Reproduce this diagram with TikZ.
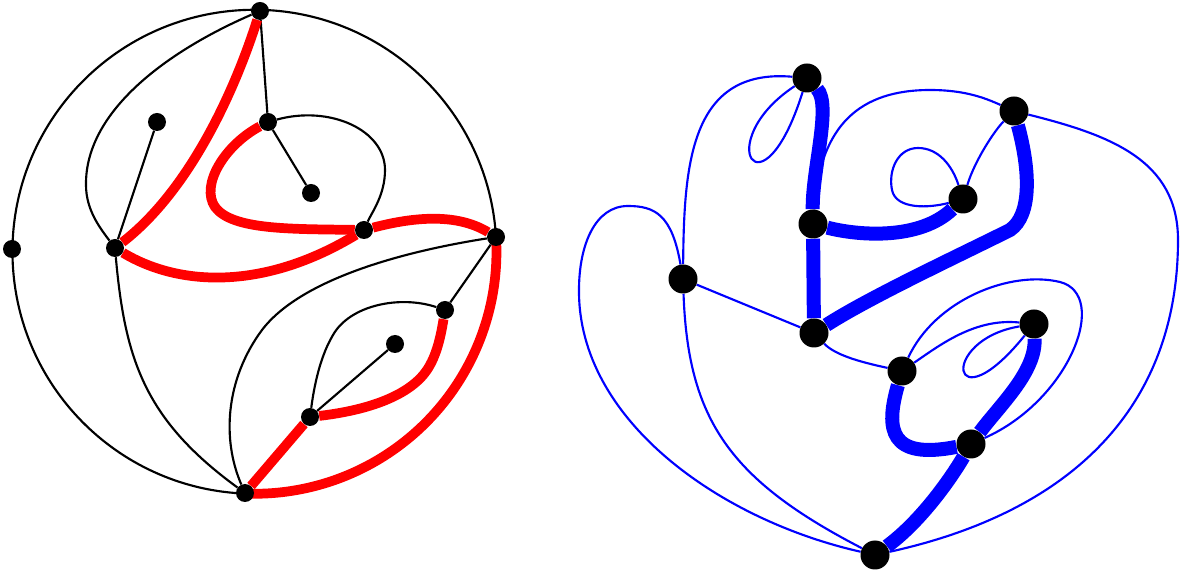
\documentclass[tikz,border=0pt]{standalone}
\usetikzlibrary{backgrounds}

\begin{document}
\begin{tikzpicture}[x=0.75pt,y=0.75pt,yscale=-1,xscale=1,
  dot/.style={circle,fill=black,inner sep=0pt,minimum size=13.5pt},
  bigdot/.style={circle,fill=black,inner sep=0pt,minimum size=21.75pt},
  thinblack/.style={draw=black,line width=1.6pt},
  thickred/.style={draw=red,line width=7.3pt},
  thinblue/.style={draw=blue,line width=1.6pt},
  thickblue/.style={draw=blue,line width=10.5pt}]
\useasboundingbox (0,0) rectangle (1183,573);

% Left disc: vertices
\node[dot] (T) at (260,11) {};
\node[dot] (L) at (12,249) {};
\node[dot] (A) at (115,248) {};
\node[dot] (P1) at (157,122) {};
\node[dot] (C) at (268,122) {};
\node[dot] (P2) at (311,193) {};
\node[dot] (D) at (364,230) {};
\node[dot] (R) at (496,237) {};
\node[dot] (E) at (445,310) {};
\node[dot] (P3) at (395,344) {};
\node[dot] (F) at (310,417) {};
\node[dot] (B) at (245,493) {};

% Right graph: vertices
\node[bigdot] (Q1) at (807,78) {};
\node[bigdot] (Q2) at (813,224) {};
\node[bigdot] (Q3) at (683,279) {};
\node[bigdot] (Q4) at (814,333) {};
\node[bigdot] (Q5) at (1014,111) {};
\node[bigdot] (Q6) at (963,199) {};
\node[bigdot] (Q7) at (1034,324) {};
\node[bigdot] (Q8) at (902,371) {};
\node[bigdot] (Q9) at (971,444) {};
\node[bigdot] (Q10) at (875,555) {};

\begin{scope}[on background layer]
% Left disc: black edges
\draw[thinblack] (R.center) arc[start angle=-3.5, end angle=-268, radius=242];
\draw[thinblack] (T) .. controls (170,50) and (85,110) .. (86,185) .. controls (86,210) and (100,228) .. (A);
\draw[thinblack] (A) -- (P1);
\draw[thinblack] (T) -- (C);
\draw[thinblack] (C) -- (P2);
\draw[thinblack] (C) .. controls (330,105) and (385,130) .. (385,170) .. controls (385,195) and (372,212) .. (D);
\draw[thinblack] (A) .. controls (125,360) and (145,420) .. (B);
\draw[thinblack] (R) .. controls (400,252) and (300,280) .. (262,330) .. controls (225,380) and (222,440) .. (B);
\draw[thinblack] (R) -- (E);
\draw[thinblack] (E) .. controls (400,295) and (350,305) .. (333,335) .. controls (318,360) and (313,395) .. (F);
\draw[thinblack] (F) -- (P3);

% Left disc: red edges
\draw[thickred] (R.center) arc[start angle=-3.5, end angle=92, radius=242];
\draw[thickred] (T) .. controls (235,90) and (190,190) .. (A);
\draw[thickred] (A) .. controls (180,287) and (265,290) .. (D);
\draw[thickred] (C) .. controls (225,145) and (200,185) .. (215,207) .. controls (232,230) and (290,229) .. (D);
\draw[thickred] (D) .. controls (410,218) and (455,212) .. (R);
\draw[thickred] (B) -- (F);
\draw[thickred] (F) .. controls (370,410) and (410,395) .. (427,370) .. controls (437,355) and (441,335) .. (E);

% Right graph: thin edges
\draw[thinblue] (Q1) .. controls (710,142) and (762,222) .. (Q1);
\draw[thinblue] (Q1) .. controls (690,68) and (684,165) .. (Q3);
\draw[thinblue] (Q3) .. controls (672,215) and (655,206) .. (628,206) .. controls (595,206) and (579,245) .. (579,290) .. controls (578,420) and (720,520) .. (Q10);
\draw[thinblue] (Q3) -- (Q4);
\draw[thinblue] (Q3) .. controls (688,420) and (730,480) .. (Q10);
\draw[thinblue] (Q4) .. controls (835,355) and (860,362) .. (Q8);
\draw[thinblue] (Q2) .. controls (820,125) and (860,90) .. (930,90) .. controls (965,90) and (985,98) .. (Q5);
\draw[thinblue] (Q5) .. controls (995,130) and (975,160) .. (Q6);
\draw[thinblue] (Q6) .. controls (952,165) and (938,148) .. (918,148) .. controls (898,148) and (888,170) .. (892,190) .. controls (896,210) and (930,208) .. (Q6);
\draw[thinblue] (Q5) .. controls (1110,135) and (1178,160) .. (1178,240) .. controls (1178,400) and (1080,510) .. (Q10);
\draw[thinblue] (Q8) .. controls (940,345) and (975,318) .. (Q7);
\draw[thinblue] (Q8) .. controls (935,300) and (1010,270) .. (1060,282) .. controls (1110,295) and (1070,400) .. (Q9);
\draw[thinblue] (Q7) .. controls (938,340) and (950,428) .. (Q7);

% Right graph: thick edges
\draw[thickblue] (Q1) .. controls (832,105) and (812,170) .. (Q2);
\draw[thickblue] (Q2) -- (Q4);
\draw[thickblue] (Q2) .. controls (860,236) and (920,240) .. (Q6);
\draw[thickblue] (Q4) .. controls (870,297) and (960,255) .. (1010,230) .. controls (1032,215) and (1030,170) .. (Q5);
\draw[thickblue] (Q8) .. controls (885,430) and (890,460) .. (Q9);
\draw[thickblue] (Q7) .. controls (1036,372) and (1000,405) .. (Q9);
\draw[thickblue] (Q9) .. controls (950,480) and (920,522) .. (Q10);
\end{scope}
\end{tikzpicture}
\end{document}
